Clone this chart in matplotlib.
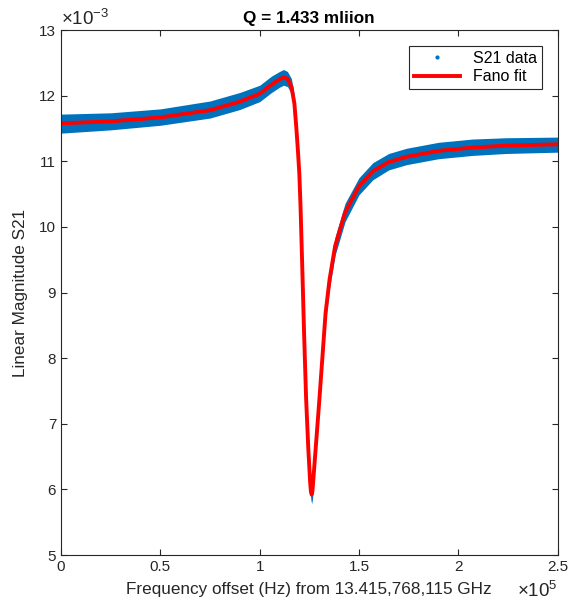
import numpy as np
import matplotlib
matplotlib.use('Agg')
import matplotlib.pyplot as plt
from matplotlib.ticker import FuncFormatter

plt.rcParams['font.family'] = ['Liberation Sans', 'DejaVu Sans']
plt.rcParams['mathtext.fontset'] = 'custom'
plt.rcParams['mathtext.rm'] = 'Liberation Sans'
plt.rcParams['mathtext.it'] = 'Liberation Sans'

# fit curve (x in 1e5 Hz, y in 1e-3)
fit_x = [0.00, 0.25, 0.50, 0.75, 0.90, 1.00, 1.06, 1.10, 1.12, 1.14, 1.16, 1.175,
         1.185, 1.193, 1.200, 1.206, 1.214, 1.224, 1.234, 1.245, 1.254, 1.258,
         1.262, 1.266, 1.272, 1.282, 1.301, 1.318, 1.332, 1.352, 1.380, 1.430,
         1.500, 1.570, 1.650, 1.740, 1.900, 2.070, 2.240, 2.500]
fit_y = [11.58, 11.61, 11.67, 11.78, 11.91, 12.03, 12.17, 12.25, 12.28, 12.26, 12.14, 11.88,
         11.50, 11.15, 10.80, 10.30, 9.45, 8.35, 7.38, 6.62, 6.12, 5.97,
         5.92, 5.98, 6.22, 6.62, 7.38, 8.10, 8.69, 9.20, 9.71, 10.22,
         10.62, 10.85, 10.99, 11.07, 11.16, 11.21, 11.24, 11.26]

# noise band of the measured points (upper / lower edge, 1e-3)
data_hi = [11.72, 11.74, 11.80, 11.92, 12.05, 12.16, 12.30, 12.37, 12.40, 12.37, 12.26, 12.00,
           11.62, 11.27, 10.92, 10.42, 9.57, 8.47, 7.50, 6.74, 6.24, 6.09,
           6.04, 6.10, 6.34, 6.74, 7.50, 8.22, 8.82, 9.34, 9.85, 10.36,
           10.75, 10.98, 11.12, 11.20, 11.29, 11.34, 11.36, 11.37]
data_lo = [11.43, 11.48, 11.55, 11.66, 11.79, 11.91, 12.05, 12.13, 12.16, 12.14, 12.03, 11.76,
           11.38, 11.03, 10.68, 10.18, 9.33, 8.23, 7.26, 6.50, 6.00, 5.84,
           5.78, 5.85, 6.10, 6.50, 7.26, 7.98, 8.56, 9.06, 9.57, 10.08,
           10.49, 10.72, 10.87, 10.95, 11.04, 11.09, 11.12, 11.14]

blue = '#0072BD'
grey = '#262626'
fx = np.array(fit_x) * 1e5
fy = np.array(fit_y) * 1e-3
hi = np.array(data_hi) * 1e-3
lo = np.array(data_lo) * 1e-3

fig = plt.figure(figsize=(5.79, 6.03), dpi=100)
ax = fig.add_axes([0.1054, 0.0796, 0.8576, 0.8704])

ax.fill_between(fx, lo, hi, color=blue, lw=0)
ax.plot([], [], '.', color=blue, ms=4, label='S21 data')
ax.plot(fx, fy, color='red', lw=2.8, label='Fano fit')

ax.set_xlim(0, 2.5e5)
ax.set_ylim(5e-3, 13e-3)
ax.set_xticks(np.arange(0, 2.51e5, 0.5e5))
ax.set_yticks(np.arange(5e-3, 13.01e-3, 1e-3))
ax.xaxis.set_major_formatter(FuncFormatter(lambda v, p: '%g' % round(v / 1e5, 3)))
ax.yaxis.set_major_formatter(FuncFormatter(lambda v, p: '%g' % round(v / 1e-3, 3)))
ax.tick_params(direction='in', top=True, right=True, labelsize=11, length=4,
               colors=grey)
for s in ax.spines.values():
    s.set_color(grey)
    s.set_linewidth(0.8)

ax.text(0.0, 1.003, r'$\times10^{-3}$', transform=ax.transAxes, fontsize=13.5,
        ha='left', va='bottom', color=grey)
ax.text(1.0, -0.050, r'$\times10^{5}$', transform=ax.transAxes, fontsize=13.5,
        ha='right', va='top', color=grey)

ax.set_title('Q = 1.433 mliion', fontsize=12.3, fontweight='bold', pad=5)
ax.set_xlabel('Frequency offset (Hz) from 13.415,768,115 GHz', fontsize=12.3,
              labelpad=6, color=grey)
ax.set_ylabel('Linear Magnitude S21', fontsize=12.3, labelpad=8, color=grey)

leg = ax.legend(loc='upper right', fontsize=11.5, fancybox=False, framealpha=1,
                edgecolor=grey, borderaxespad=1.0, handlelength=2.9,
                borderpad=0.3, labelspacing=0.2)
leg.get_frame().set_linewidth(0.8)

fig.savefig('out.png', dpi=100)
